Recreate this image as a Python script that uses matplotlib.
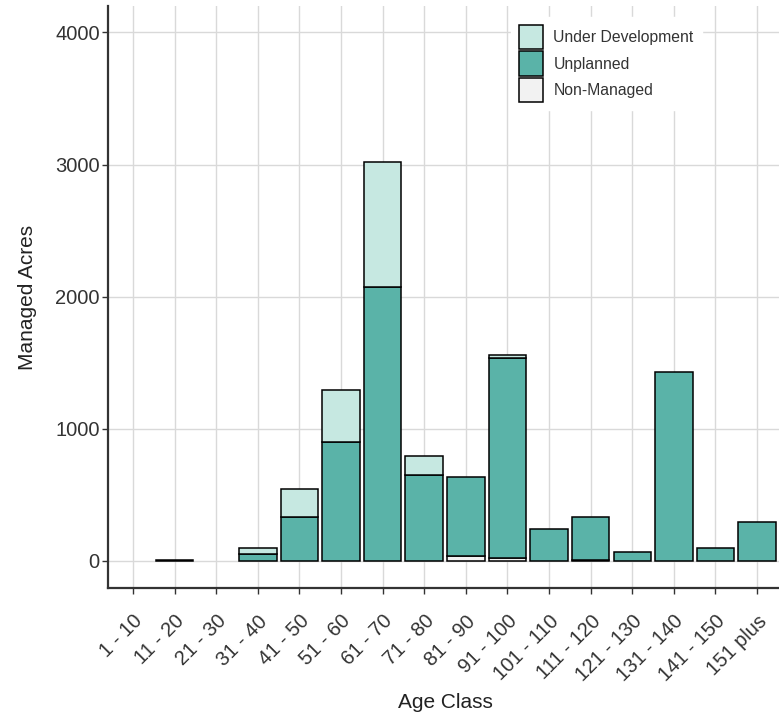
import matplotlib
matplotlib.use("Agg")
import matplotlib.pyplot as plt
import numpy as np

plt.rcParams['font.family'] = ['Liberation Sans', 'DejaVu Sans']

categories = ['1 - 10', '11 - 20', '21 - 30', '31 - 40', '41 - 50', '51 - 60',
              '61 - 70', '71 - 80', '81 - 90', '91 - 100', '101 - 110',
              '111 - 120', '121 - 130', '131 - 140', '141 - 150', '151 plus']
non_managed = [0, 0, 0, 0, 0, 0, 0, 0, 38, 22, 0, 5, 0, 0, 0, 0]
unplanned = [0, 8, 0, 49, 334, 899, 2076, 650, 594, 1516, 244, 329, 67, 1432, 97, 294]
under_development = [0, 0, 0, 51, 207, 392, 941, 143, 0, 20, 0, 0, 0, 0, 0, 0]

c_ud = '#c6e8e1'
c_un = '#5ab3a8'
c_nm = '#f2f2f2'

fig = plt.figure(figsize=(7.79, 7.16), dpi=100)
ax = fig.add_axes([108/779, (716-588)/716, 674/779, 582/716])

x = np.arange(len(categories))
nm = np.array(non_managed, dtype=float)
un = np.array(unplanned, dtype=float)
ud = np.array(under_development, dtype=float)
w = 0.9
kw = dict(width=w, edgecolor='black', linewidth=1.1, zorder=3)


def stacked(vals, bottom, color, label):
    m = vals > 0
    return ax.bar(x[m], vals[m], bottom=bottom[m], color=color, label=label, **kw)


b_nm = stacked(nm, np.zeros_like(nm), c_nm, 'Non-Managed')
b_un = stacked(un, nm, c_un, 'Unplanned')
b_ud = stacked(ud, nm + un, c_ud, 'Under Development')

ax.set_xlim(-0.6, 15.6)
ax.set_ylim(-205, 4200)
ax.set_yticks([0, 1000, 2000, 3000, 4000])
ax.set_xticks(x)
ax.set_xticklabels(categories, rotation=45, ha='right', va='top',
                   rotation_mode='anchor')
ax.grid(True, color='#d9d9d9', linewidth=1.0, zorder=0)
ax.set_axisbelow(True)

for s in ['top', 'right']:
    ax.spines[s].set_visible(False)
for s in ['left', 'bottom']:
    ax.spines[s].set_color('#333333')
    ax.spines[s].set_linewidth(1.6)
ax.tick_params(axis='both', colors='#333333', labelcolor='#333333',
               labelsize=14.5, length=4, width=1)
ax.tick_params(axis='x', pad=13)
ax.tick_params(axis='y', pad=2)

ax.set_xlabel('Age Class', fontsize=15, color='#222222', labelpad=6)
ax.set_ylabel('Managed Acres', fontsize=15, color='#222222', labelpad=13)

fs = 11.3
leg = ax.legend(handles=[b_ud, b_un, b_nm], loc='upper left',
                bbox_to_anchor=((511-108)/674, (588-17)/582),
                frameon=True, fontsize=fs, handlelength=1.565, handleheight=2.03,
                labelspacing=0.12, borderpad=0.5, handletextpad=0.64,
                borderaxespad=0)
leg.get_frame().set_edgecolor('white')
leg.get_frame().set_facecolor('white')
leg.get_frame().set_alpha(1)
leg.get_frame().set_boxstyle('square', pad=0)
for t in leg.get_texts():
    t.set_color('#333333')

fig.savefig('out.png', dpi=100)
